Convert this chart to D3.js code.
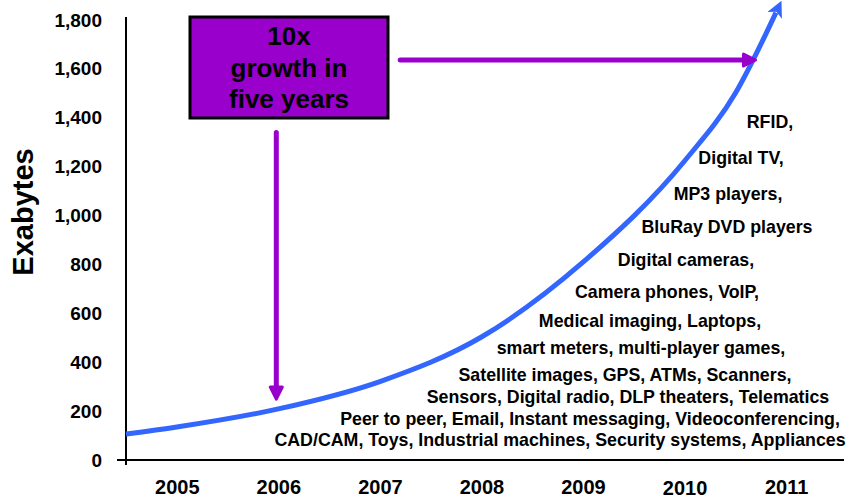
<!DOCTYPE html>
<html>
<head>
<meta charset="utf-8">
<script src="https://cdnjs.cloudflare.com/ajax/libs/d3/7.8.5/d3.min.js"></script>
<style>
  body { margin: 0; background: #fff; }
  text { font-family: "Liberation Sans", Arial, sans-serif; font-weight: bold; fill: #000; }
</style>
</head>
<body>
<div class="canvas"></div>
<script>
// data
const years = [2004.5, 2005, 2006, 2007, 2008, 2009, 2010, 2010.5, 2010.9];
const exabytes = [106, 135, 209, 321, 503, 809, 1223, 1500, 1830];
const yearLabels = [2005, 2006, 2007, 2008, 2009, 2010, 2011];
const yTicks = [0, 200, 400, 600, 800, 1000, 1200, 1400, 1600, 1800];
const boxLines = ['10x', 'growth in', 'five years'];
const apps = [
  'RFID,',
  'Digital TV,',
  'MP3 players,',
  'BluRay DVD players',
  'Digital cameras,',
  'Camera phones, VoIP,',
  'Medical imaging, Laptops,',
  'smart meters, multi-player games,',
  'Satellite images, GPS, ATMs, Scanners,',
  'Sensors, Digital radio, DLP theaters, Telematics',
  'Peer to peer, Email, Instant messaging, Videoconferencing,',
  'CAD/CAM, Toys, Industrial machines, Security systems, Appliances'
];

// layout of the application list (centre x, baseline y)
const appsPos = [
  [770, 128], [741, 164], [728, 200], [727, 233], [686, 266], [667, 298],
  [650, 327], [641, 354], [625, 381], [628, 403], [590, 425], [560, 446]
];

const width = 852;
const height = 499;
const blue = '#3366ff';
const purple = '#9900cc';

const svg = d3.select('.canvas')
  .append('svg')
    .attr('width', width)
    .attr('height', height);

const x = d3.scaleLinear()
  .domain([2004.5, 2011.57])
  .range([126, 844]);

const y = d3.scaleLinear()
  .domain([0, 1812])
  .range([460, 17]);

// markers
const defs = svg.append('defs');
defs.append('marker')
  .attr('id', 'blueHead')
  .attr('markerUnits', 'userSpaceOnUse')
  .attr('viewBox', '0 0 16 16')
  .attr('refX', 3)
  .attr('refY', 8)
  .attr('markerWidth', 16)
  .attr('markerHeight', 16)
  .attr('orient', 'auto')
  .append('path')
    .attr('d', 'M0,0 L16,8 L0,16 L4,8 Z')
    .attr('fill', blue);

defs.append('marker')
  .attr('id', 'purpleHead')
  .attr('markerUnits', 'userSpaceOnUse')
  .attr('viewBox', '0 0 16 16')
  .attr('refX', 4)
  .attr('refY', 8)
  .attr('markerWidth', 16)
  .attr('markerHeight', 16)
  .attr('orient', 'auto')
  .append('path')
    .attr('d', 'M2,2 L14,8 L2,14 Z')
    .attr('fill', purple)
    .attr('stroke', purple)
    .attr('stroke-width', 3)
    .attr('stroke-linejoin', 'round');

// axes
const yAxis = d3.axisLeft(y)
  .tickValues(yTicks)
  .tickFormat(d3.format(','))
  .tickSize(0)
  .tickPadding(24);

const yAxisGroup = svg.append('g')
  .attr('transform', `translate(${x.range()[0]}, 0)`)
  .call(yAxis);
yAxisGroup.select('.domain').remove();
yAxisGroup.selectAll('text')
  .style('font-size', '19px')
  .style('font-family', '"Liberation Sans", Arial, sans-serif');

const xAxis = d3.axisBottom(x)
  .tickValues(yearLabels)
  .tickFormat(d3.format('d'))
  .tickSize(0)
  .tickPadding(20);

const xAxisGroup = svg.append('g')
  .attr('transform', `translate(0, ${y(0)})`)
  .call(xAxis);
xAxisGroup.select('.domain').remove();
xAxisGroup.selectAll('text')
  .style('font-size', '20px')
  .style('font-family', '"Liberation Sans", Arial, sans-serif')
  .filter(d => d === 2010)
  .attr('y', 21);

// axis lines, crossing at the origin
svg.append('line')
  .attr('x1', x.range()[0]).attr('x2', x.range()[0])
  .attr('y1', y.range()[1]).attr('y2', y(0) + 5)
  .attr('stroke', '#000').attr('stroke-width', 2);
svg.append('line')
  .attr('x1', x.range()[0] - 9).attr('x2', x.range()[1])
  .attr('y1', y(0)).attr('y2', y(0))
  .attr('stroke', '#000').attr('stroke-width', 2);

// y title
svg.append('text')
  .attr('transform', 'translate(33, 212) rotate(-90)')
  .attr('text-anchor', 'middle')
  .style('font-size', '29px')
  .text('Exabytes');

// growth curve
const line = d3.line()
  .x((d, i) => x(years[i]))
  .y(d => y(d))
  .curve(d3.curveMonotoneX);

svg.append('path')
  .datum(exabytes)
  .attr('d', line)
  .attr('fill', 'none')
  .attr('stroke', blue)
  .attr('stroke-width', 5)
  .attr('marker-end', 'url(#blueHead)');

// purple arrows
svg.append('line')
  .attr('x1', x(2007.2)).attr('x2', x(2010.6))
  .attr('y1', y(1636)).attr('y2', y(1636))
  .attr('stroke', purple)
  .attr('stroke-width', 5)
  .attr('stroke-linecap', 'round')
  .attr('marker-end', 'url(#purpleHead)');

svg.append('line')
  .attr('x1', x(2005.98)).attr('x2', x(2005.98))
  .attr('y1', y(1340)).attr('y2', y(290))
  .attr('stroke', purple)
  .attr('stroke-width', 5)
  .attr('stroke-linecap', 'round')
  .attr('marker-end', 'url(#purpleHead)');

// callout box
svg.append('rect')
  .attr('x', 190).attr('y', 17)
  .attr('width', 198).attr('height', 101)
  .attr('fill', purple)
  .attr('stroke', '#000')
  .attr('stroke-width', 3);

svg.append('g')
  .selectAll('text')
  .data(boxLines)
  .enter()
  .append('text')
    .attr('x', 289)
    .attr('y', (d, i) => 45 + i * 31.5)
    .attr('text-anchor', 'middle')
    .style('font-size', '26px')
    .text(d => d);

// application list
svg.append('g')
  .selectAll('text')
  .data(apps)
  .enter()
  .append('text')
    .attr('x', (d, i) => appsPos[i][0])
    .attr('y', (d, i) => appsPos[i][1])
    .attr('text-anchor', 'middle')
    .style('font-size', '17.8px')
    .text(d => d);
</script>
</body>
</html>
